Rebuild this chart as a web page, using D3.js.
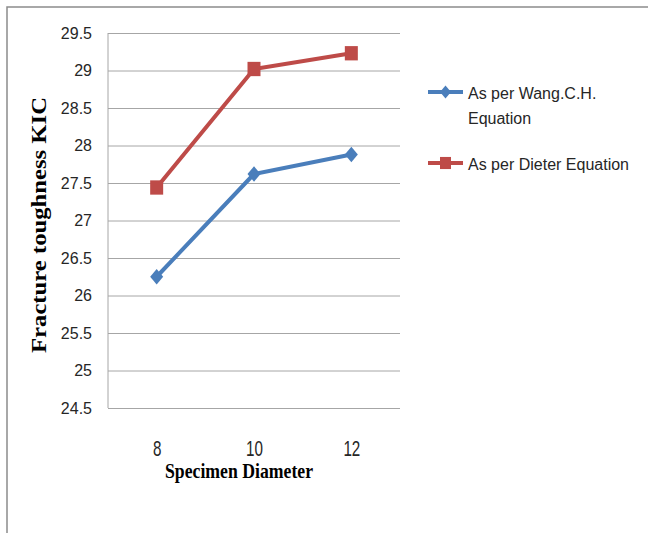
<!DOCTYPE html>
<html>
<head>
<meta charset="utf-8">
<script src="https://cdn.jsdelivr.net/npm/d3@7"></script>
<style>
  html, body { margin: 0; padding: 0; background: #fff; }
  svg { display: block; }
</style>
</head>
<body>
<svg id="chart" width="648" height="533"></svg>
<script>
// ---- data ----
const categories = ["8", "10", "12"];
const wangValues = [26.25, 27.62, 27.88];
const dieterValues = [27.44, 29.02, 29.23];
const seriesNames = ["As per Wang.C.H. Equation", "As per Dieter Equation"];
const yTicks = [24.5, 25, 25.5, 26, 26.5, 27, 27.5, 28, 28.5, 29, 29.5];
const xTitle = "Specimen Diameter";
const yTitle = "Fracture toughness KIC";

const series = [
  { name: seriesNames[0], values: wangValues, color: "#4a7ebb", marker: "diamond" },
  { name: seriesNames[1], values: dieterValues, color: "#be4b48", marker: "square" }
];

const svg = d3.select("#chart");
const plot = { left: 108, right: 400, top: 33, bottom: 408 };

// outer frame (top and left edges visible)
svg.append("path")
  .attr("d", "M7,533 L7,7 L648,7")
  .attr("fill", "none")
  .attr("stroke", "#8c8c8c")
  .attr("stroke-width", 1.5);

const x = d3.scalePoint().domain(categories).range([plot.left, plot.right]).padding(0.5);
const y = d3.scaleLinear().domain([24.5, 29.5]).range([plot.bottom, plot.top]);

// gridlines
const grid = svg.append("g").attr("transform", `translate(${plot.left},0)`)
  .call(d3.axisLeft(y).tickValues(yTicks).tickSize(-(plot.right - plot.left)).tickFormat(""));
grid.select(".domain").remove();
grid.selectAll(".tick line").attr("stroke", "#a6a6a6").attr("stroke-width", 1);

// left axis line
svg.append("line")
  .attr("x1", plot.left).attr("x2", plot.left)
  .attr("y1", plot.top).attr("y2", plot.bottom)
  .attr("stroke", "#a6a6a6").attr("stroke-width", 1);

// y tick labels
const yAxis = svg.append("g").attr("transform", `translate(${plot.left},0)`)
  .call(d3.axisLeft(y).tickValues(yTicks).tickSize(0).tickPadding(16).tickFormat(d3.format("")));
yAxis.select(".domain").remove();
yAxis.selectAll("text")
  .attr("font-family", "'Liberation Sans', Arial, sans-serif")
  .attr("font-size", 16)
  .attr("fill", "#262626");

// x tick labels (narrow, tall glyphs as in the reference)
const sx = 0.8, sy = 1.12;
const xAxis = svg.append("g").attr("transform", `translate(0,${plot.bottom})`)
  .call(d3.axisBottom(x).tickSize(0).tickPadding(0));
xAxis.select(".domain").remove();
xAxis.selectAll("text")
  .attr("y", 48 / sy).attr("dy", null)
  .attr("transform", `scale(${sx},${sy})`)
  .attr("font-family", "'Liberation Sans', Arial, sans-serif")
  .attr("font-size", 19)
  .attr("fill", "#262626");

// lines and markers
const line = d3.line().x((d, i) => x(categories[i])).y(d => y(d));
const diamond = s => `M0,${-s * 0.6} L${s * 0.5},0 L0,${s * 0.6} L${-s * 0.5},0 Z`;
const square = s => `M${-s / 2},${-s * 0.55} H${s / 2} V${s * 0.55} H${-s / 2} Z`;

series.forEach(s => {
  svg.append("path")
    .datum(s.values)
    .attr("d", line)
    .attr("fill", "none")
    .attr("stroke", s.color)
    .attr("stroke-width", 4)
    .attr("stroke-linejoin", "round");
  svg.append("g").selectAll("path")
    .data(s.values)
    .join("path")
    .attr("transform", (d, i) => `translate(${x(categories[i])},${y(d)})`)
    .attr("d", s.marker === "diamond" ? diamond(13) : square(13))
    .attr("fill", s.color);
});

// axis titles
svg.append("text")
  .attr("x", 165).attr("y", 478)
  .attr("font-family", "'Liberation Serif', 'Times New Roman', serif")
  .attr("font-weight", "bold")
  .attr("font-size", 21)
  .attr("textLength", 148)
  .attr("lengthAdjust", "spacingAndGlyphs")
  .attr("fill", "#000")
  .text(xTitle);

svg.append("text")
  .attr("transform", "translate(46,225) rotate(-90)")
  .attr("text-anchor", "middle")
  .attr("font-family", "'Liberation Serif', 'Times New Roman', serif")
  .attr("font-weight", "bold")
  .attr("font-size", 21)
  .attr("textLength", 256)
  .attr("lengthAdjust", "spacingAndGlyphs")
  .attr("fill", "#000")
  .text(yTitle);

// legend
const legendItems = [
  { s: series[0], lines: ["As per Wang.C.H.", "Equation"], y: 92 },
  { s: series[1], lines: ["As per Dieter Equation"], y: 163 }
];
const lg = svg.append("g");
legendItems.forEach(item => {
  lg.append("line")
    .attr("x1", 428).attr("x2", 463)
    .attr("y1", item.y).attr("y2", item.y)
    .attr("stroke", item.s.color).attr("stroke-width", 4);
  lg.append("path")
    .attr("transform", `translate(445.5,${item.y})`)
    .attr("d", item.s.marker === "diamond" ? diamond(11) : square(11))
    .attr("fill", item.s.color);
  const t = lg.append("text")
    .attr("x", 468).attr("y", item.y + 7)
    .attr("font-family", "'Liberation Sans', Arial, sans-serif")
    .attr("font-size", 16)
    .attr("fill", "#262626");
  item.lines.forEach((l, i) => {
    t.append("tspan").attr("x", 468).attr("dy", i === 0 ? 0 : 25).text(l);
  });
});
</script>
</body>
</html>
